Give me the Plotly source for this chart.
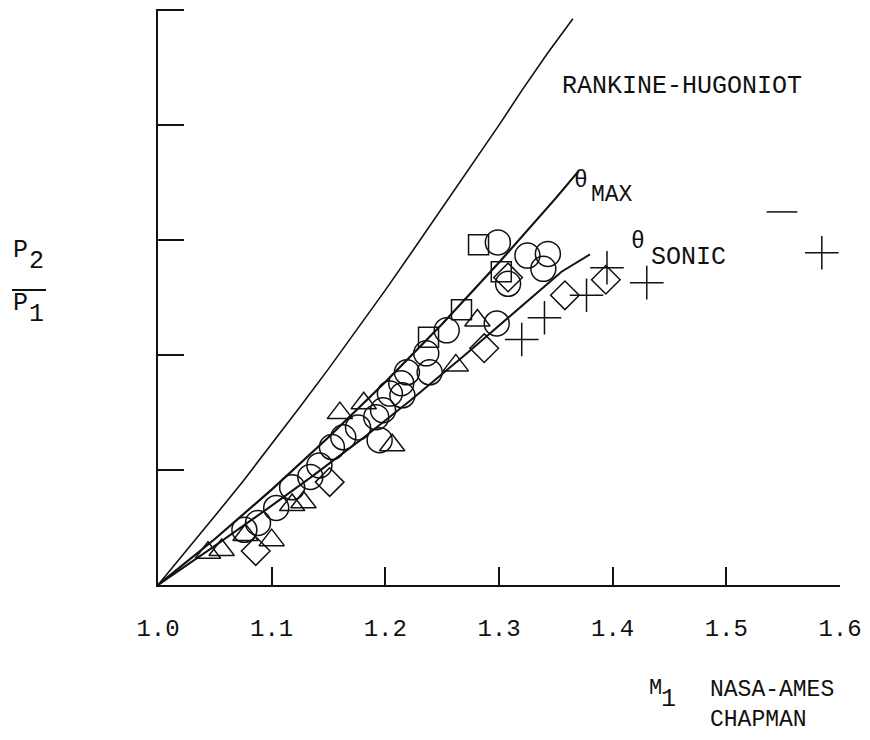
import plotly.graph_objects as go

# ---------------- data ----------------
rh_m = [1.000, 1.025, 1.050, 1.075, 1.100, 1.125, 1.150, 1.175, 1.200, 1.225,
        1.250, 1.275, 1.300, 1.320, 1.343, 1.365]
rh_p = [1.000, 1.059, 1.120, 1.181, 1.245, 1.310, 1.376, 1.444, 1.513, 1.584,
        1.656, 1.728, 1.800, 1.860, 1.926, 1.985]

tmax_m = [1.000, 1.050, 1.100, 1.150, 1.200, 1.250, 1.300, 1.350, 1.370]
tmax_p = [1.000, 1.080, 1.166, 1.257, 1.353, 1.454, 1.561, 1.673, 1.720]

tson_m = [1.000, 1.050, 1.100, 1.135, 1.180, 1.222, 1.270, 1.320, 1.355, 1.380]
tson_p = [1.000, 1.068, 1.138, 1.188, 1.255, 1.321, 1.400, 1.485, 1.545, 1.575]

circ_m = [1.076, 1.088, 1.104, 1.118, 1.134, 1.142, 1.153, 1.163, 1.176, 1.192,
          1.198, 1.204, 1.215, 1.214, 1.219, 1.239, 1.236, 1.254, 1.298, 1.299,
          1.325, 1.343, 1.339, 1.308, 1.195]
circ_p = [1.096, 1.108, 1.134, 1.170, 1.188, 1.208, 1.240, 1.257, 1.274, 1.292,
          1.304, 1.333, 1.330, 1.351, 1.370, 1.370, 1.403, 1.443, 1.455, 1.596,
          1.573, 1.576, 1.550, 1.524, 1.252]

tri_m = [1.044, 1.056, 1.077, 1.100, 1.118, 1.128, 1.160, 1.181, 1.262, 1.281, 1.206]
tri_p = [1.056, 1.061, 1.087, 1.078, 1.139, 1.144, 1.299, 1.316, 1.382, 1.460, 1.243]

dia_m = [1.086, 1.151, 1.287, 1.308, 1.358, 1.394]
dia_p = [1.059, 1.179, 1.412, 1.535, 1.504, 1.531]

sq_m = [1.238, 1.267, 1.282, 1.302]
sq_p = [1.431, 1.479, 1.592, 1.545]

plus_m = [1.320, 1.340, 1.377, 1.395, 1.430, 1.584]
plus_p = [1.427, 1.465, 1.504, 1.552, 1.526, 1.578]

dash_m = [1.549]
dash_p = [1.649]

x_ticks = [1.0, 1.1, 1.2, 1.3, 1.4, 1.5, 1.6]
x_tick_text = ["1.0", "1.1", "1.2", "1.3", "1.4", "1.5", "1.6"]
y_ticks = [1.2, 1.4, 1.6, 1.8, 2.0]

# ---------------- figure ----------------
FONT = "Courier New, Liberation Mono, monospace"
BLACK = "#111111"

OFF = 8                      # page body margin of the HTML page
W, H = 854, 724              # figure size (fits the window with the body margin)
PL, PT, PR, PB = 158, 9, 840, 585   # plot area, page pixels
L = PL - OFF
T = PT - OFF
R = W - (PR - OFF)
B = H - (PB - OFF)
PW, PH = PR - PL, PB - PT


def px(x):  # layout helper: page pixel -> paper (for text placement only)
    return (x - PL) / PW


def py(y):
    return (PB - y) / PH


fig = go.Figure()

for xs, ys, w in [(rh_m, rh_p, 1.6), (tmax_m, tmax_p, 2.2), (tson_m, tson_p, 2.0)]:
    fig.add_trace(go.Scatter(x=xs, y=ys, mode="lines",
                             line=dict(color=BLACK, width=w),
                             showlegend=False, hoverinfo="skip"))

marker_sets = [
    (circ_m, circ_p, "circle-open", 25),
    (tri_m, tri_p, "triangle-up-open", 22),
    (dia_m, dia_p, "diamond-open", 22),
    (sq_m, sq_p, "square-open", 20),
    (plus_m, plus_p, "cross-thin-open", 24),
    (dash_m, dash_p, "line-ew-open", 22),
]
for xs, ys, sym, size in marker_sets:
    fig.add_trace(go.Scatter(x=xs, y=ys, mode="markers",
                             marker=dict(symbol=sym, size=size, color=BLACK,
                                         line=dict(color=BLACK, width=1.5)),
                             showlegend=False, cliponaxis=False))

ann = []


def text(s, x, y, size=25, xanchor="center"):
    ann.append(dict(text=s, x=px(x), y=py(y), xref="paper", yref="paper",
                    showarrow=False, xanchor=xanchor, yanchor="middle",
                    font=dict(family=FONT, size=size, color=BLACK)))


text("RANKINE-HUGONIOT", 682, 86, 25)
text("θ", 581, 181, 23)
text("MAX", 612, 195, 23)
text("θ", 638, 242, 23)
text("SONIC", 688, 258, 25)
text("P", 20, 250, 25)
text("2", 36, 261, 25)
text("P", 20, 303, 25)
text("1", 36, 314, 25)
text("M", 655, 688, 22)
text("1", 668, 699, 25)
text("NASA-AMES", 708, 690, 23, "left")
text("CHAPMAN", 708, 720, 23, "left")

fig.update_layout(
    width=W, height=H,
    margin=dict(l=L, r=R, t=T, b=B, pad=0),
    paper_bgcolor="white", plot_bgcolor="white",
    font=dict(family=FONT, color=BLACK),
    annotations=ann,
    shapes=[dict(type="line", xref="paper", yref="paper",
                 x0=px(12), x1=px(46), y0=py(290), y1=py(290),
                 line=dict(color=BLACK, width=2))],
    xaxis=dict(range=[1.0, 1.6], tickvals=x_ticks, ticktext=x_tick_text,
               ticks="inside", ticklen=18, tickwidth=1.6, tickcolor=BLACK,
               showline=True, linecolor=BLACK, linewidth=1.8, mirror=False,
               showgrid=False, zeroline=False, ticklabelstandoff=20,
               tickfont=dict(family=FONT, size=24, color=BLACK)),
    yaxis=dict(range=[1.0, 2.002], tickvals=y_ticks, showticklabels=False,
               ticks="inside", ticklen=26, tickwidth=1.8, tickcolor=BLACK,
               showline=True, linecolor=BLACK, linewidth=1.8, mirror=False,
               showgrid=False, zeroline=False),
)

fig.write_html("out.html")
